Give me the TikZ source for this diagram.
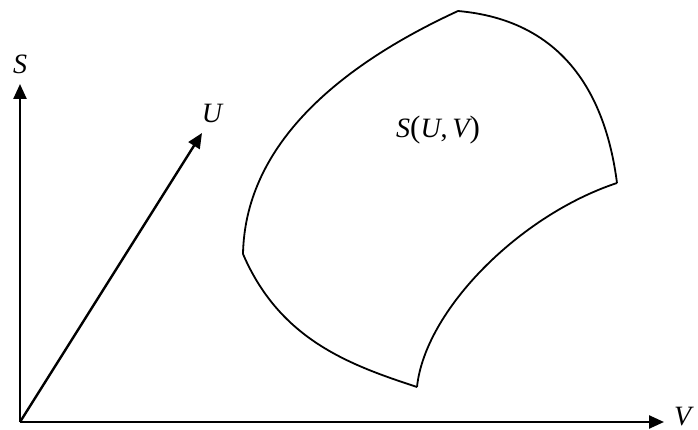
\documentclass[tikz,border=0pt]{standalone}
\usepackage{fontspec}
\setmainfont{Liberation Serif}
\usetikzlibrary{arrows.meta}
\begin{document}
\begin{tikzpicture}[x=1pt,y=-1pt,
  axis/.style={line width=2.4pt,-{Triangle[length=15pt,width=13pt]}},
  edge/.style={line width=1.8pt},
  lbl/.style={font=\fontsize{28}{32}\selectfont\itshape,inner sep=0pt}]
\useasboundingbox (0,0) rectangle (698,430);
\coordinate (O) at (20,422);
\coordinate (Stip) at (20,84);
\coordinate (Utip) at (202,133);
\coordinate (Vtip) at (664,422);
\draw[axis] (O) -- (Stip);
\draw[axis] (O) -- (Utip);
\draw[axis] (O) -- (Vtip);
\node[lbl] (S) at (20,64) {S};
\node[lbl] (U) at (212,113) {U};
\node[lbl,anchor=base west] (V) at (674,425) {V};
\node[lbl] (SUV) at (438,130) {S{\upshape\fontsize{31}{32}\selectfont(}U{\upshape,}\,V{\upshape\fontsize{31}{32}\selectfont)}};
\coordinate (ct) at (458,11);
\coordinate (cr) at (617,183);
\coordinate (cb) at (417,387);
\coordinate (cl) at (243,254);
\draw[edge] (cl) .. controls (245,150) and (330,70) .. (ct);
\draw[edge] (ct) .. controls (560,20) and (605,90) .. (cr);
\draw[edge] (cr) .. controls (520,215) and (425,310) .. (cb);
\draw[edge] (cl) .. controls (280,340) and (350,365) .. (cb);
\end{tikzpicture}
\end{document}
